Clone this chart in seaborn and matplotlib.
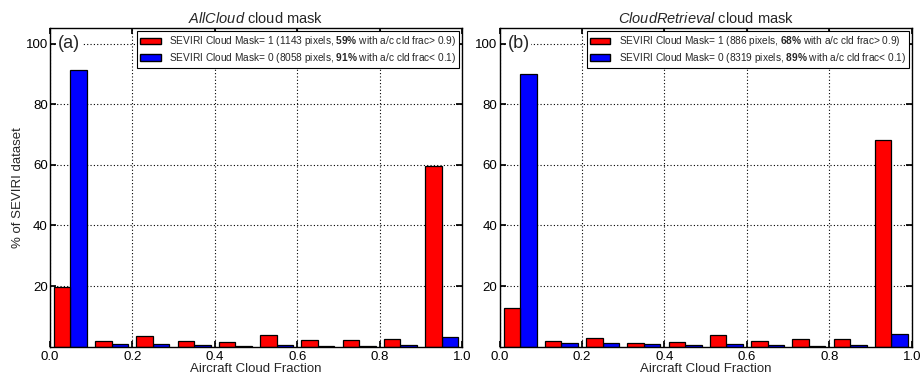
import numpy as np
import pandas as pd
import seaborn as sns
import matplotlib.pyplot as plt
from matplotlib.patches import Patch

# bin centres of the aircraft cloud fraction histogram
bin_centres = [0.05, 0.15, 0.25, 0.35, 0.45, 0.55, 0.65, 0.75, 0.85, 0.95]
bin_edges = [0.0, 0.1, 0.2, 0.3, 0.4, 0.5, 0.6, 0.7, 0.8, 0.9, 1.0]

# (a) AllCloud cloud mask, % of SEVIRI dataset per bin
allcloud_mask1 = [19.7, 1.9, 3.5, 1.9, 1.6, 3.8, 2.1, 2.2, 2.5, 59.5]
allcloud_mask0 = [91.2, 1.0, 0.8, 0.4, 0.3, 0.6, 0.2, 0.1, 0.4, 3.2]

# (b) CloudRetrieval cloud mask
retrieval_mask1 = [12.8, 2.0, 2.9, 1.2, 1.5, 3.8, 2.0, 2.4, 2.6, 68.2]
retrieval_mask0 = [89.8, 1.2, 1.1, 0.9, 0.5, 0.9, 0.4, 0.2, 0.5, 4.1]

panels = [
    {
        "tag": "(a)",
        "title": r"$\it{AllCloud}$ cloud mask",
        "mask1": allcloud_mask1,
        "mask0": allcloud_mask0,
        "lab1": r"SEVIRI Cloud Mask= 1 (1143 pixels, $\bf{59\%}$ with a/c cld frac> 0.9)",
        "lab0": r"SEVIRI Cloud Mask= 0 (8058 pixels, $\bf{91\%}$ with a/c cld frac< 0.1)",
    },
    {
        "tag": "(b)",
        "title": r"$\it{CloudRetrieval}$ cloud mask",
        "mask1": retrieval_mask1,
        "mask0": retrieval_mask0,
        "lab1": r"SEVIRI Cloud Mask= 1 (886 pixels, $\bf{68\%}$ with a/c cld frac> 0.9)",
        "lab0": r"SEVIRI Cloud Mask= 0 (8319 pixels, $\bf{89\%}$ with a/c cld frac< 0.1)",
    },
]

sns.set_theme(style="white")
plt.rcParams.update({
    "font.family": ["Liberation Sans", "DejaVu Sans"],
    "mathtext.fontset": "custom",
    "mathtext.rm": "Liberation Sans",
    "mathtext.it": "Liberation Sans:italic",
    "mathtext.bf": "Liberation Sans:bold",
    "font.size": 10,
    "xtick.direction": "in",
    "ytick.direction": "in",
    "xtick.top": True,
    "ytick.right": True,
    "xtick.bottom": True,
    "ytick.left": True,
    "xtick.major.size": 4,
    "ytick.major.size": 4,
    "axes.edgecolor": "black",
    "axes.linewidth": 1.0,
})

colors = {"1": "#ff0000", "0": "#0000ff"}

fig, axes = plt.subplots(1, 2, figsize=(9.23, 3.78), dpi=100)
fig.subplots_adjust(left=0.054, right=0.988, bottom=0.083, top=0.925, wspace=0.0905)

for ax, p in zip(axes, panels):
    df = pd.DataFrame({
        "frac": bin_centres * 2,
        "pct": p["mask1"] + p["mask0"],
        "mask": ["1"] * len(bin_centres) + ["0"] * len(bin_centres),
    })
    sns.histplot(
        data=df, x="frac", weights="pct", hue="mask", hue_order=["1", "0"],
        bins=bin_edges, multiple="dodge", shrink=0.8,
        palette=colors, alpha=1, edgecolor="black", linewidth=0.9,
        legend=False, ax=ax,
    )
    ax.set_xlim(0, 1)
    ax.set_ylim(0, 105)
    ax.set_xticks(np.arange(0, 1.01, 0.2))
    ax.set_xticklabels([f"{v:.1f}" for v in np.arange(0, 1.01, 0.2)])
    ax.set_yticks([20, 40, 60, 80, 100])
    ax.tick_params(axis="both", labelsize=9.5, colors="black")
    ax.tick_params(axis="y", pad=1.5)
    ax.tick_params(axis="x", pad=3)
    ax.set_axisbelow(True)
    ax.grid(True, linestyle=(0, (1, 2)), color="black", linewidth=0.8)
    ax.set_xlabel("Aircraft Cloud Fraction", fontsize=9.5, labelpad=0)
    ax.set_ylabel("")
    ax.set_title(p["title"], fontsize=10.5, pad=4)
    ax.text(0.02, 100, p["tag"], fontsize=13, va="center", ha="left",
            bbox=dict(fc="white", ec="none", pad=1))
    handles = [Patch(fc=colors["1"], ec="black"), Patch(fc=colors["0"], ec="black")]
    leg = ax.legend(handles, [p["lab1"], p["lab0"]], loc="upper right",
                    fontsize=7.3, frameon=True, fancybox=False, edgecolor="black",
                    borderaxespad=0.3, handlelength=2.0, handleheight=0.6,
                    labelspacing=0.25, borderpad=0.3, handletextpad=0.8)
    leg.get_frame().set_linewidth(0.8)
    leg.get_frame().set_alpha(1)

axes[0].set_ylabel("% of SEVIRI dataset", fontsize=9.5, labelpad=1)

plt.savefig("out.png", dpi=100)
